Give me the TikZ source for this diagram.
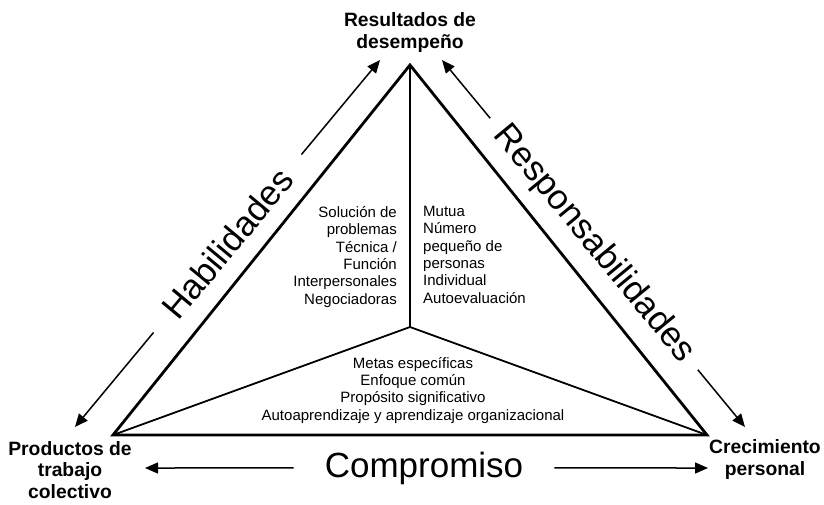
\documentclass[tikz,border=0pt]{standalone}
\usepackage{fontspec}
\setmainfont{Liberation Sans}
\usetikzlibrary{arrows.meta}
\tikzset{
  corner/.style={font=\fontsize{19.3}{21.5}\selectfont\bfseries, align=center, inner sep=0pt, anchor=base},
  biglbl/.style={font=\fontsize{35}{40}\selectfont, inner ysep=0pt},
  inner/.style={font=\fontsize{15}{17.3}\selectfont, inner sep=0pt},
  arr/.style={line width=1.5pt, -{Triangle[length=13pt,width=11pt]}},
  outerline/.style={line width=2.8pt, line join=miter},
  innerline/.style={line width=1.8pt},
}
\begin{document}
\begin{tikzpicture}[x=1pt,y=-1pt]
\useasboundingbox (0,0) rectangle (824,504);
% triangle
\coordinate (A) at (410,65);
\coordinate (B) at (113,435);
\coordinate (C) at (707,435);
\coordinate (O) at (410,327);
\draw[outerline] (A) -- (B) -- (C) -- cycle;
\draw[innerline] (A) -- (O);
\draw[innerline] (B) -- (O) -- (C);
% corner labels (base = last line)
\node[corner] (res) at (410,48) {Resultados de\\desempeño};
\node[corner] (prod) at (70,498) {Productos de\\trabajo\\colectivo};
\node[corner] (crec) at (765,475) {Crecimiento\\personal};
% inner texts
\node[inner, align=right, anchor=base east] (skills) at (397,304) {Solución de\\problemas\\Técnica /\\Función\\Interpersonales\\Negociadoras};
\node[inner, align=left, anchor=base west] (resp) at (423,303) {Mutua\\Número\\pequeño de\\personas\\Individual\\Autoevaluación};
\node[inner, align=center, anchor=base] (goals) at (413,420) {Metas específicas\\Enfoque común\\Propósito significativo\\Autoaprendizaje y aprendizaje organizacional};
% side labels with arrows
\node[biglbl, inner xsep=24pt, rotate=50.27] (hab) at (227.5,243.5) {Habilidades};
\node[biglbl, inner xsep=15pt, rotate=-50.46] (respl) at (594,244) {Responsabilidades};
\node[biglbl, inner xsep=31pt, anchor=base] (comp) at (424,477) {Compromiso};
\coordinate (habT) at (380,60);
\coordinate (habB) at (75,427);
\coordinate (resT) at (442,60);
\coordinate (resB) at (745,427);
\coordinate (compL) at (145,468);
\coordinate (compR) at (708,468);
\draw[arr] (hab.east) -- (habT);
\draw[arr] (hab.west) -- (habB);
\draw[arr] (respl.west) -- (resT);
\draw[arr] (respl.east) -- (resB);
\draw[arr] (comp.west) -- (compL);
\draw[arr] (comp.east) -- (compR);
\end{tikzpicture}
\end{document}
